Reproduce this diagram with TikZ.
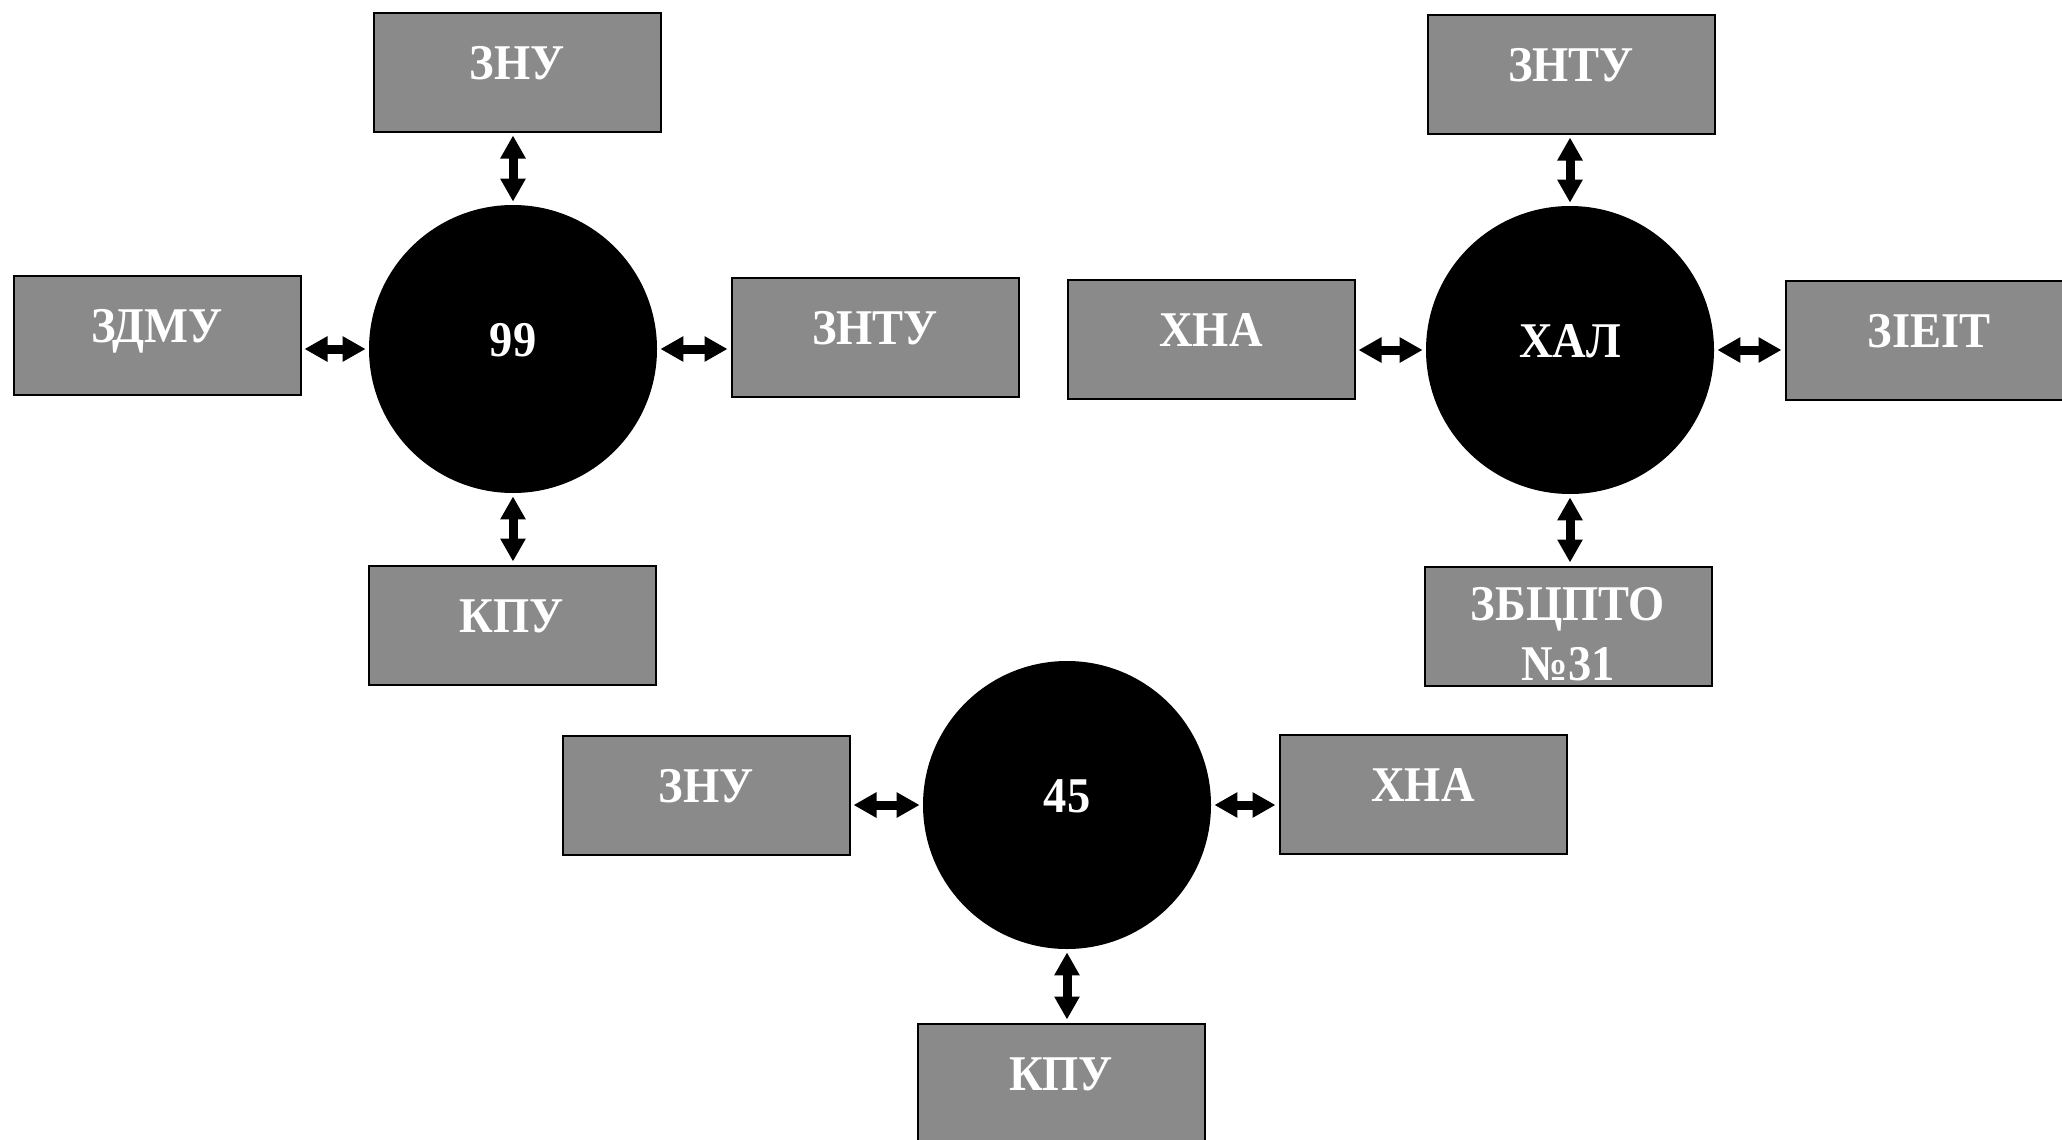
\documentclass[tikz,border=0pt]{standalone}
\usepackage{fontspec}
\setmainfont{Liberation Serif}[FakeStretch=0.93]
\usetikzlibrary{arrows.meta}
\definecolor{boxgray}{RGB}{138,138,138}
\begin{document}
\begin{tikzpicture}[x=0.5pt,y=-0.5pt,
  lbl/.style={text=white, font=\fontsize{25}{30}\selectfont\bfseries, text height=16pt, text depth=9pt},
  box/.style={lbl, draw=black, line width=1pt, fill=boxgray, minimum width=143.5pt, minimum height=59.5pt, inner sep=0pt},
  hub/.style={lbl, circle, fill=black, minimum size=144pt, inner sep=0pt},
  biarrow/.style={line width=4.5pt, {Triangle[width=12pt,length=11.5pt]}-{Triangle[width=12pt,length=11.5pt]}, shorten <=1.5pt, shorten >=1.5pt}]
\useasboundingbox (0,0) rectangle (2062,1140);
\fill[white] (0,0) rectangle (2062,1140);

% group 1
\node[hub] (c1) at (513,349) {99};
\node[box] (t1) at (517,72) {ЗНУ};
\node[box] (l1) at (157,335) {ЗДМУ};
\node[box] (r1) at (875,337) {ЗНТУ};
\node[box] (b1) at (512,625) {КПУ};
\draw[biarrow] (t1.south -| c1.center) -- (c1.north);
\draw[biarrow] (l1.east |- c1.center) -- (c1.west);
\draw[biarrow] (c1.east) -- (r1.west |- c1.center);
\draw[biarrow] (c1.south) -- (b1.north -| c1.center);

% group 2
\node[hub] (c2) at (1570,350) {ХАЛ};
\node[box] (t2) at (1571,74) {ЗНТУ};
\node[box] (l2) at (1211,339) {ХНА};
\node[box] (r2) at (1929,340) {ЗІЕІТ};
\node[box, text height=16pt, text depth=22pt] (b2) at (1568,626)
  {\begin{tabular}[t]{@{}c@{}}ЗБЦПТО\\№31\end{tabular}};
\draw[biarrow] (t2.south -| c2.center) -- (c2.north);
\draw[biarrow] (l2.east |- c2.center) -- (c2.west);
\draw[biarrow] (c2.east) -- (r2.west |- c2.center);
\draw[biarrow] (c2.south) -- (b2.north -| c2.center);

% group 3
\node[hub] (c3) at (1067,805) {45};
\node[box] (l3) at (706,795) {ЗНУ};
\node[box] (r3) at (1423,794) {ХНА};
\node[box] (b3) at (1061,1083) {КПУ};
\draw[biarrow] (l3.east |- c3.center) -- (c3.west);
\draw[biarrow] (c3.east) -- (r3.west |- c3.center);
\draw[biarrow] (c3.south) -- (b3.north -| c3.center);
\end{tikzpicture}
\end{document}
